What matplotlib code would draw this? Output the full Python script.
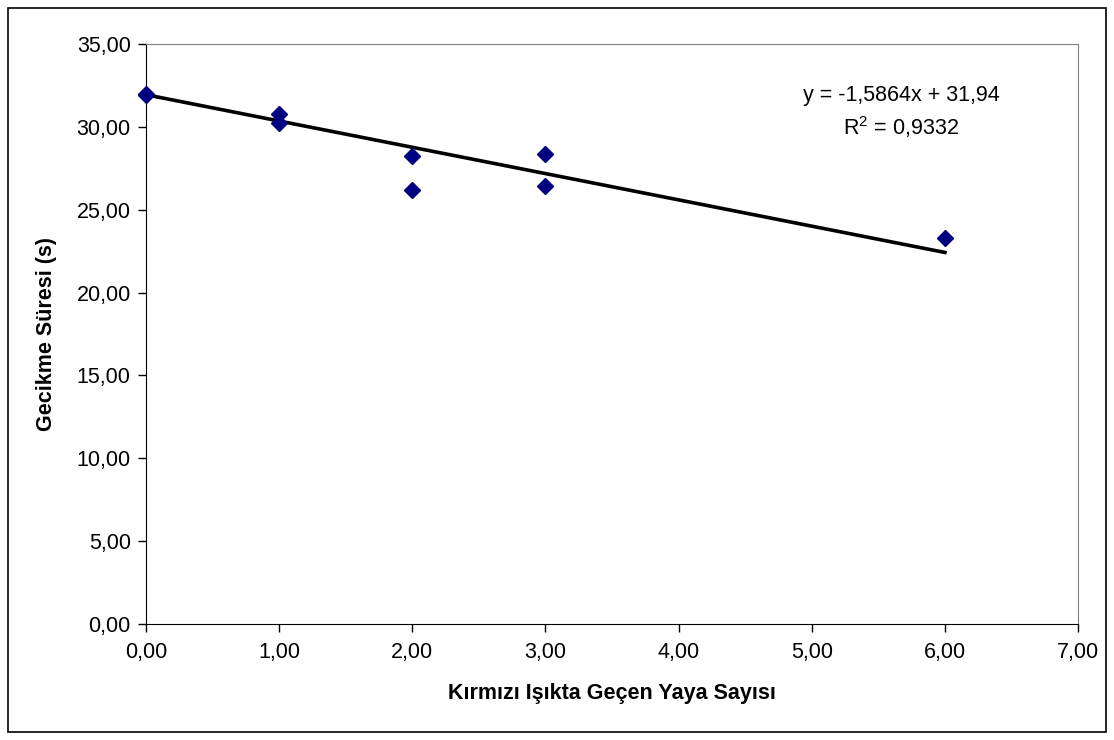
import matplotlib.pyplot as plt
import matplotlib.patches as patches
import numpy as np

# data
yaya = [0, 0, 1, 1, 2, 2, 3, 3, 6]
gecikme = [32.0, 31.95, 30.8, 30.25, 28.25, 26.2, 28.35, 26.45, 23.3]
egim = -1.5864
kesim = 31.94
r2 = 0.9332

plt.rcParams['font.family'] = ['Liberation Sans', 'DejaVu Sans']

fig = plt.figure(figsize=(11.14, 7.4), dpi=100)
ax = fig.add_axes([146/1114, 1-624/740, (1078-146)/1114, (624-44)/740])

# outer chart border
fig.patches.append(patches.Rectangle((8/1114, 8/740), 1098/1114, 724/740,
                                     transform=fig.transFigure, fill=False,
                                     edgecolor='black', linewidth=1.2))

ax.plot(yaya, gecikme, linestyle='none', marker='D', markersize=8.5,
        color='#000080', zorder=3, clip_on=False)

# trend line
tx = np.array([0, 6])
ax.plot(tx, egim*tx + kesim, color='black', linewidth=2.6, zorder=2)

ax.set_xlim(0, 7)
ax.set_ylim(0, 35)
ax.set_xticks(np.arange(0, 8, 1))
ax.set_yticks(np.arange(0, 40, 5))
fmt = lambda v: ('%.2f' % v).replace('.', ',')
ax.set_xticklabels([fmt(v) for v in np.arange(0, 8, 1)])
ax.set_yticklabels([fmt(v) for v in np.arange(0, 40, 5)])
ax.tick_params(labelsize=15.5, direction='out', length=6, width=1, colors='black')
ax.tick_params(axis='x', pad=7)
ax.tick_params(axis='y', pad=5)

ax.spines['top'].set_color('#808080')
ax.spines['right'].set_color('#808080')
for s in ['left', 'bottom']:
    ax.spines[s].set_color('black')

ax.set_xlabel('Kırmızı Işıkta Geçen Yaya Sayısı', fontsize=15.5, fontweight='bold', labelpad=14)
ax.set_ylabel('Gecikme Süresi (s)', fontsize=15.5, fontweight='bold', labelpad=14)

fig.text(901/1114, 1-95/740, 'y = ' + ('%.4fx + %.2f' % (egim, kesim)).replace('.', ','),
         ha='center', va='center', fontsize=15.5)
fig.text(901/1114, 1-127/740, '$\\mathregular{R^2}$ = ' + ('%.4f' % r2).replace('.', ','),
         ha='center', va='center', fontsize=15.5)

fig.savefig('out.png', dpi=100)
